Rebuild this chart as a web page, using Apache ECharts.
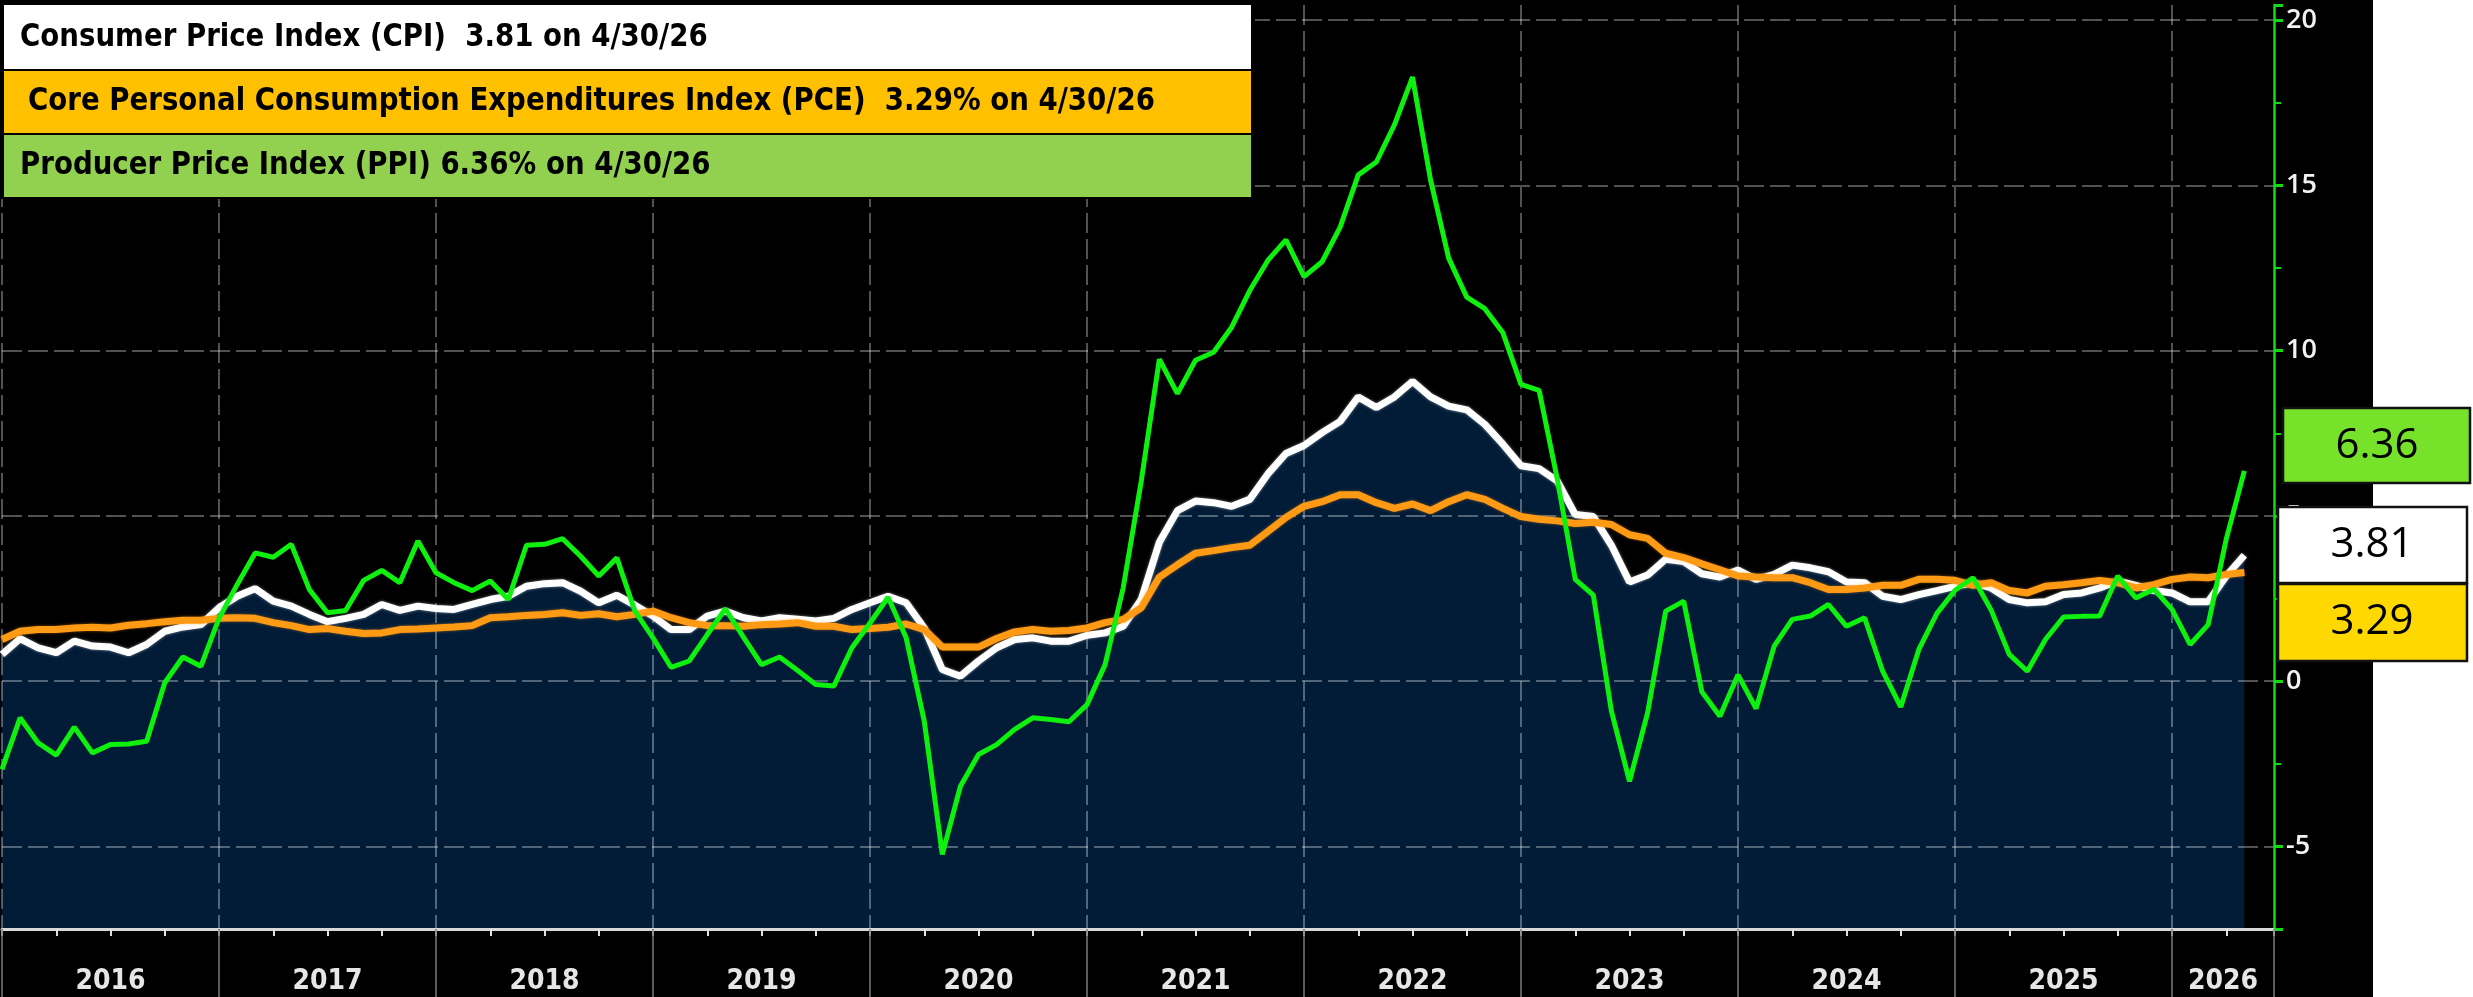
<!DOCTYPE html>
<html>
<head>
<meta charset="utf-8">
<title>CPI, Core PCE and PPI</title>
<script src="https://cdn.jsdelivr.net/npm/echarts@6/dist/echarts.min.js"></script>
<style>
  html, body { margin: 0; padding: 0; background: #fff; }
  #chart { width: 2473px; height: 997px; }
</style>
</head>
<body>
<div id="chart"></div>
<script>
// year-over-year %, month ends from 12/31/15 (index 0) to 4/30/26 (index 124)
const cpi = [
  0.81, 1.29, 1.01, 0.86, 1.21, 1.06, 1.03, 0.86, 1.11, 1.51, 1.64, 1.71,
  2.22, 2.57, 2.80, 2.42, 2.27, 2.02, 1.80, 1.90, 2.02, 2.32, 2.14, 2.27,
  2.20, 2.17, 2.32, 2.47, 2.57, 2.87, 2.95, 2.98, 2.72, 2.37, 2.60, 2.30,
  1.97, 1.56, 1.56, 1.97, 2.12, 1.92, 1.82, 1.92, 1.87, 1.82, 1.90, 2.17,
  2.37, 2.57, 2.37, 1.61, 0.35, 0.15, 0.61, 1.01, 1.26, 1.31, 1.21, 1.21,
  1.39, 1.46, 1.66, 2.47, 4.20, 5.16, 5.45, 5.40, 5.29, 5.50, 6.27, 6.89,
  7.13, 7.52, 7.86, 8.60, 8.28, 8.60, 9.07, 8.60, 8.32, 8.21, 7.77, 7.17,
  6.52, 6.43, 6.06, 5.04, 4.98, 4.11, 3.00, 3.21, 3.69, 3.62, 3.25, 3.15,
  3.36, 3.08, 3.23, 3.51, 3.43, 3.31, 3.00, 2.98, 2.57, 2.47, 2.62, 2.74,
  2.87, 2.98, 2.82, 2.47, 2.37, 2.40, 2.62, 2.67, 2.82, 3.03, 2.90, 2.74,
  2.67, 2.40, 2.40, 3.18, 3.81
];
const corePce = [
  1.26, 1.51, 1.56, 1.56, 1.61, 1.63, 1.61, 1.69, 1.74, 1.80, 1.84, 1.84,
  1.90, 1.92, 1.90, 1.77, 1.68, 1.56, 1.59, 1.51, 1.44, 1.46, 1.56, 1.58,
  1.61, 1.64, 1.68, 1.92, 1.95, 1.99, 2.02, 2.07, 1.99, 2.04, 1.95, 2.02,
  2.12, 1.92, 1.77, 1.68, 1.68, 1.66, 1.71, 1.73, 1.77, 1.66, 1.66, 1.56,
  1.59, 1.63, 1.73, 1.56, 1.03, 1.03, 1.03, 1.29, 1.49, 1.56, 1.51, 1.53,
  1.61, 1.77, 1.87, 2.22, 3.15, 3.52, 3.87, 3.95, 4.04, 4.11, 4.53, 4.95,
  5.29, 5.43, 5.64, 5.64, 5.40, 5.23, 5.36, 5.16, 5.43, 5.64, 5.50, 5.23,
  4.98, 4.90, 4.85, 4.77, 4.81, 4.74, 4.43, 4.32, 3.87, 3.74, 3.55, 3.37,
  3.18, 3.15, 3.13, 3.13, 2.98, 2.77, 2.77, 2.82, 2.90, 2.90, 3.08, 3.08,
  3.05, 2.90, 2.98, 2.74, 2.67, 2.87, 2.92, 2.98, 3.05, 2.98, 2.82, 2.92,
  3.08, 3.15, 3.13, 3.23, 3.29
];
const ppi = [
  -2.67, -1.11, -1.87, -2.24, -1.39, -2.17, -1.92, -1.90, -1.82, -0.05, 0.73, 0.45,
  1.90, 2.92, 3.88, 3.75, 4.14, 2.77, 2.07, 2.14, 3.05, 3.35, 2.98, 4.24,
  3.28, 2.98, 2.74, 3.03, 2.47, 4.11, 4.14, 4.31, 3.78, 3.18, 3.73, 2.12,
  1.31, 0.42, 0.61, 1.41, 2.19, 1.33, 0.50, 0.73, 0.32, -0.10, -0.15, 1.01,
  1.76, 2.54, 1.31, -1.21, -5.24, -3.18, -2.22, -1.92, -1.46, -1.11, -1.16, -1.23,
  -0.71, 0.50, 2.82, 6.05, 9.74, 8.70, 9.71, 9.95, 10.71, 11.82, 12.73, 13.35,
  12.24, 12.69, 13.74, 15.32, 15.71, 16.83, 18.28, 15.16, 12.80, 11.62, 11.27, 10.54,
  8.98, 8.80, 6.13, 3.08, 2.60, -0.91, -3.03, -0.96, 2.12, 2.42, -0.32, -1.06,
  0.19, -0.83, 1.06, 1.87, 1.97, 2.32, 1.66, 1.92, 0.30, -0.78, 0.96, 2.05,
  2.75, 3.13, 2.15, 0.81, 0.30, 1.26, 1.94, 1.96, 1.97, 3.18, 2.52, 2.78,
  2.17, 1.11, 1.71, 4.30, 6.36
];
const yearLabels = ['2016', '2017', '2018', '2019', '2020', '2021', '2022', '2023', '2024', '2025', '2026'];
const asOf = '4/30/26';

const last = arr => arr[arr.length - 1];
const pts = arr => arr.map((v, i) => [i, v]);

// label slots: middle of each year, the last (partial) year centred in what is visible
const X_MAX = 125.64;
const labelSlots = yearLabels.map((y, k) => k < yearLabels.length - 1 ? k * 12 + 6 : (k * 12 + X_MAX) / 2);

const legendFont = 'bold 32px "DejaVu Sans Condensed", "Liberation Sans Narrow", sans-serif';
const boxFont = '42px "Open Sans", sans-serif';
const gridLine = { color: 'rgba(255,255,255,0.32)', width: 2, type: [20, 6] };

const chart = echarts.init(document.getElementById('chart'));

chart.setOption({
  animation: false,
  backgroundColor: '#000',
  grid: { left: 2, right: 199, top: 5, bottom: 68 },
  xAxis: [
    {
      type: 'value', position: 'bottom', min: 0, max: X_MAX, interval: 3, z: 1,
      axisLine: { show: true, onZero: false, lineStyle: { color: '#d8d8d8', width: 3 } },
      axisTick: { show: true, length: 7, lineStyle: { color: '#e0e0e0', width: 2 } },
      axisLabel: { show: false },
      splitLine: { show: false }
    },
    {
      type: 'value', position: 'bottom', min: 0, max: X_MAX, interval: 12, z: 1,
      axisLine: { show: false, onZero: false },
      axisTick: { show: true, length: 68, lineStyle: { color: '#7a7a7a', width: 1.5 } },
      axisLabel: {
        customValues: labelSlots,
        formatter: v => yearLabels[Math.min(Math.floor(v / 12), yearLabels.length - 1)],
        color: '#e6e6e6',
        fontFamily: '"DejaVu Sans Condensed", sans-serif',
        fontWeight: 'bold',
        fontSize: 28,
        lineHeight: 30,
        margin: 38
      },
      splitLine: { show: true, showMaxLine: false, lineStyle: gridLine }
    }
  ],
  yAxis: {
    type: 'value', position: 'right', min: -7.5, max: 20.46, z: 1,
    axisLine: { show: true, onZero: false, lineStyle: { color: '#12dd12', width: 2.5 } },
    axisTick: { show: true, length: 9, lineStyle: { color: '#12dd12', width: 3 } },
    minorTick: { show: true, splitNumber: 2, length: 7, lineStyle: { color: '#12dd12', width: 2 } },
    axisLabel: {
      showMinLabel: false, showMaxLabel: false,
      color: '#f2f2f2', fontFamily: '"Open Sans", sans-serif', fontWeight: 600, fontSize: 27, margin: 12
    },
    splitLine: { show: true, showMaxLine: false, showMinLine: false, lineStyle: gridLine }
  },
  series: [
    {
      name: 'CPI fill', type: 'line', data: pts(cpi), symbol: 'none', z: 0, silent: true,
      lineStyle: { width: 0 },
      areaStyle: { color: '#021c38', opacity: 1, origin: 'start' }
    },
    {
      name: 'CPI', type: 'line', data: pts(cpi), symbol: 'none', z: 3,
      lineStyle: { color: '#ffffff', width: 7, shadowColor: 'rgba(255,255,255,0.5)', shadowBlur: 3 }
    },
    {
      name: 'Core PCE', type: 'line', data: pts(corePce), symbol: 'none', z: 4,
      lineStyle: { color: '#ff9a14', width: 7, shadowColor: 'rgba(255,154,20,0.5)', shadowBlur: 3 }
    },
    {
      name: 'PPI', type: 'line', data: pts(ppi), symbol: 'none', z: 5,
      lineStyle: { color: '#0ef00e', width: 5 }
    }
  ],
  graphic: [
    // white margin right of the chart picture
    { type: 'rect', silent: true, z: 0, shape: { x: 2373, y: 0, width: 100, height: 997 }, style: { fill: '#fff' } },

    // legend block, top left
    { type: 'rect', silent: true, z: 20, shape: { x: 0, y: 0, width: 1255, height: 199 }, style: { fill: '#000' } },
    { type: 'rect', silent: true, z: 21, shape: { x: 4, y: 5, width: 1247, height: 64 }, style: { fill: '#ffffff' } },
    { type: 'rect', silent: true, z: 21, shape: { x: 4, y: 71, width: 1247, height: 62 }, style: { fill: '#ffc000' } },
    { type: 'rect', silent: true, z: 21, shape: { x: 4, y: 135, width: 1247, height: 62 }, style: { fill: '#92d050' } },
    { type: 'text', silent: true, z: 22, x: 20, y: 38, scaleX: 0.96, style: {
      text: 'Consumer Price Index (CPI)  ' + last(cpi).toFixed(2) + ' on ' + asOf,
      font: legendFont, fill: '#000', textVerticalAlign: 'middle' } },
    { type: 'text', silent: true, z: 22, x: 28, y: 102, scaleX: 0.96, style: {
      text: 'Core Personal Consumption Expenditures Index (PCE)  ' + last(corePce).toFixed(2) + '% on ' + asOf,
      font: legendFont, fill: '#000', textVerticalAlign: 'middle' } },
    { type: 'text', silent: true, z: 22, x: 20, y: 166, scaleX: 0.96, style: {
      text: 'Producer Price Index (PPI) ' + last(ppi).toFixed(2) + '% on ' + asOf,
      font: legendFont, fill: '#000', textVerticalAlign: 'middle' } },

    // last-value boxes on the right axis
    { type: 'rect', silent: true, z: 20, shape: { x: 2283, y: 408, width: 187, height: 75 },
      style: { fill: '#76e22a', stroke: '#111', lineWidth: 2.5 } },
    { type: 'text', silent: true, z: 21, x: 2377, y: 446, style: {
      text: last(ppi).toFixed(2), font: boxFont, fill: '#000', textAlign: 'center', textVerticalAlign: 'middle' } },
    { type: 'rect', silent: true, z: 20, shape: { x: 2278, y: 507, width: 189, height: 76 },
      style: { fill: '#ffffff', stroke: '#111', lineWidth: 2.5 } },
    { type: 'text', silent: true, z: 21, x: 2372, y: 545, style: {
      text: last(cpi).toFixed(2), font: boxFont, fill: '#000', textAlign: 'center', textVerticalAlign: 'middle' } },
    { type: 'rect', silent: true, z: 20, shape: { x: 2278, y: 584, width: 189, height: 77 },
      style: { fill: '#ffd800', stroke: '#111', lineWidth: 2.5 } },
    { type: 'text', silent: true, z: 21, x: 2372, y: 622, style: {
      text: last(corePce).toFixed(2), font: boxFont, fill: '#000', textAlign: 'center', textVerticalAlign: 'middle' } }
  ]
});
</script>
</body>
</html>
